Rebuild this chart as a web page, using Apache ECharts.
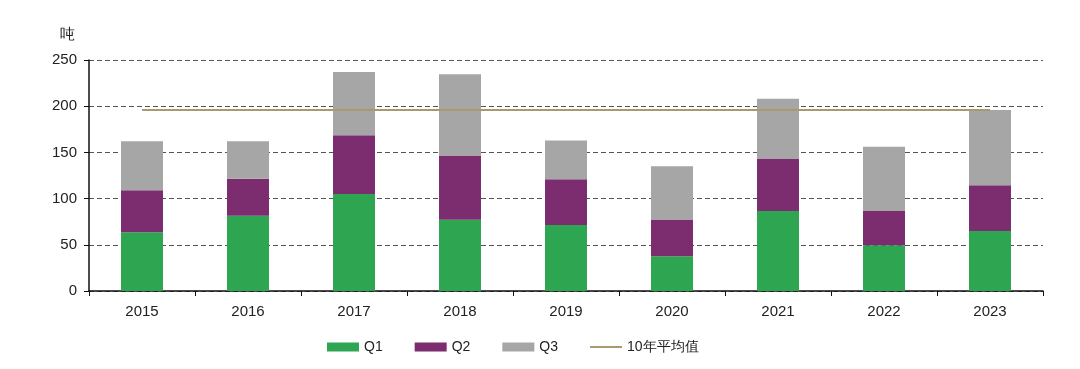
<!DOCTYPE html>
<html>
<head>
<meta charset="utf-8">
<script src="https://cdn.jsdelivr.net/npm/echarts@6/dist/echarts.min.js"></script>
<style>html,body{margin:0;padding:0;background:#fff;}#c{width:1080px;height:369px;}</style>
</head>
<body>
<div id="c"></div>
<script>
var years = ['2015','2016','2017','2018','2019','2020','2021','2022','2023'];
var q1 = [63.5, 81.5, 105, 77, 71.5, 37.5, 86.5, 49.5, 65];
var q2 = [45.5, 40, 63.5, 69, 49.5, 40, 57, 37, 49.5];
var q3 = [53, 40.5, 68.5, 88.5, 42, 57.5, 64.5, 69.5, 81.5];
var avg10 = [196, 196, 196, 196, 196, 196, 196, 196, 196];
var yTicks = [0, 50, 100, 150, 200, 250];

var chart = echarts.init(document.getElementById('c'));
var font = 'Liberation Sans, Arial, sans-serif';
chart.setOption({
  animation: false,
  textStyle: {fontFamily: font},
  grid: {left: 89, right: 37, top: 60, bottom: 78},
  legend: {
    bottom: 10, left: 322,
    itemWidth: 32, itemHeight: 9, itemGap: 32,
    textStyle: {fontSize: 14, color: '#222', fontFamily: font},
    data: [
      {name: 'Q1', icon: 'rect'},
      {name: 'Q2', icon: 'rect'},
      {name: 'Q3', icon: 'rect'},
      {name: '10年平均值', icon: 'path://M0,0 L32,0 L32,2 L0,2 Z'}
    ]
  },
  xAxis: {
    type: 'category', data: years,
    axisLine: {lineStyle: {color: '#111', width: 1.5}},
    axisTick: {show: true, alignWithLabel: false, length: 5, lineStyle: {color: '#111'}},
    axisLabel: {fontSize: 15, color: '#222', margin: 13}
  },
  yAxis: {
    type: 'value', min: 0, max: 250, interval: 50,
    name: '吨', nameLocation: 'end', nameGap: 18,
    nameTextStyle: {fontSize: 15, color: '#222', align: 'right', padding: [0, 14, 0, 0]},
    axisLine: {show: true, lineStyle: {color: '#111', width: 1.5}},
    axisTick: {show: true, length: 5, lineStyle: {color: '#111'}},
    axisLabel: {fontSize: 15, color: '#222', margin: 12},
    splitLine: {show: true, lineStyle: {color: '#555', type: [5, 3], width: 1}}
  },
  series: [
    {name: 'Q1', type: 'bar', stack: 's', barWidth: 42, data: q1, itemStyle: {color: '#2ea550'}},
    {name: 'Q2', type: 'bar', stack: 's', barWidth: 42, data: q2, itemStyle: {color: '#7b2d6f'}},
    {name: 'Q3', type: 'bar', stack: 's', barWidth: 42, data: q3, itemStyle: {color: '#a6a6a6'}},
    {name: '10年平均值', type: 'line', data: avg10, symbol: 'none', z: 5,
     lineStyle: {color: '#a89a70', width: 2}, itemStyle: {color: '#a89a70'}}
  ]
});
</script>
</body>
</html>
